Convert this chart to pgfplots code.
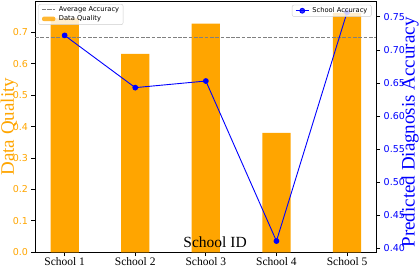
\documentclass[border=0pt]{standalone}
\usepackage{fontspec}
\setmainfont{Liberation Serif}
\newfontfamily\dejavu{DejaVu Sans}
\usepackage{pgfplots}
\pgfplotsset{compat=1.18}
\definecolor{mplorange}{HTML}{FFA500}
\definecolor{mplblue}{HTML}{0000FF}
\definecolor{mplgray}{HTML}{808080}
\definecolor{legframe}{HTML}{CCCCCC}
\pgfplotsset{
  lineleg/.style={legend image code/.code={%
    \draw[mark repeat=2,mark phase=2,##1] plot coordinates {(0pt,0pt) (6.7pt,0pt) (13.4pt,0pt)};}},
  barleg/.style={legend image code/.code={%
    \fill[mplorange] (0pt,-2.3pt) rectangle (13.4pt,2.3pt);}},
}
\begin{document}
\begin{tikzpicture}
\useasboundingbox (0,0) rectangle (419pt,269pt);
\pgfplotsset{
  common/.style={
    at={(35pt,16.7pt)}, anchor=south west,
    width=341.7pt, height=251.3pt, scale only axis,
    xmin=-0.42, xmax=4.42,
    tick align=outside, major tick length=3.5pt,
    tick style={black, line width=0.8pt},
    axis line style={black, line width=0.8pt},
    legend style={draw=legframe, rounded corners=2pt, fill=white, fill opacity=0.8, text opacity=1,
      font=\dejavu\fontsize{6.7}{7.5}\selectfont, inner xsep=3pt, inner ysep=1.5pt,
      nodes={inner sep=1pt}, column sep=2pt, row sep=0.5pt},
    legend cell align=left,
  }
}
\begin{axis}[common,
  ymin=0, ymax=0.8,
  xtick={0,1,2,3,4},
  xticklabels={School 1,School 2,School 3,School 4,School 5},
  xtick pos=bottom, ytick pos=left,
  ytick={0,0.1,0.2,0.3,0.4,0.5,0.6,0.7},
  x tick label style={font=\fontsize{11.5}{13}\selectfont, inner sep=1.5pt},
  y tick label style={font=\dejavu\fontsize{9.5}{11}\selectfont, text=mplorange,
    /pgf/number format/.cd, fixed, fixed zerofill, precision=1, assume math mode=true},
  xlabel={School ID},
  xlabel style={at={(axis description cs:0.527,0.021)}, anchor=base, font=\fontsize{15.5}{17}\selectfont},
  ylabel={Data Quality},
  ylabel style={at={(axis description cs:-0.0615,0.5)}, anchor=base, font=\fontsize{19}{21}\selectfont, text=mplorange},
  legend style={at={(axis description cs:0.0097,0.988)}, anchor=north west},
]
\addlegendimage{mplgray, line width=1pt, dash pattern=on 3.7pt off 1.6pt, lineleg}
\addlegendentry{Average Accuracy}
\addplot[ybar, bar width=0.4, fill=mplorange, draw=none, barleg]
  coordinates {(0,0.745) (1,0.632) (2,0.728) (3,0.380) (4,0.762)};
\addlegendentry{Data Quality}
\addplot[mplgray, line width=1pt, dash pattern=on 3.7pt off 1.6pt, forget plot]
  coordinates {(-0.42,0.684) (4.42,0.684)};
\end{axis}
\begin{axis}[common,
  ymin=0.394, ymax=0.774,
  hide x axis, axis y line*=right,
  ytick={0.40,0.45,0.50,0.55,0.60,0.65,0.70,0.75},
  y tick label style={font=\dejavu\fontsize{9.5}{11}\selectfont, text=mplblue,
    /pgf/number format/.cd, fixed, fixed zerofill, precision=2, assume math mode=true},
  ylabel={Predicted Diagnosis Accuracy},
  ylabel style={at={(axis description cs:1.111,0.477)}, anchor=base, font=\fontsize{19}{21}\selectfont, text=mplblue},
  legend style={at={(axis description cs:0.985,0.985)}, anchor=north east},
]
\addplot[mplblue, line width=0.9pt, mark=*, mark size=2.4pt, mark options={fill=mplblue, draw=mplblue}, lineleg]
  coordinates {(0,0.722) (1,0.643) (2,0.653) (3,0.411) (4,0.757)};
\addlegendentry{School Accuracy}
\end{axis}
\end{tikzpicture}
\end{document}
